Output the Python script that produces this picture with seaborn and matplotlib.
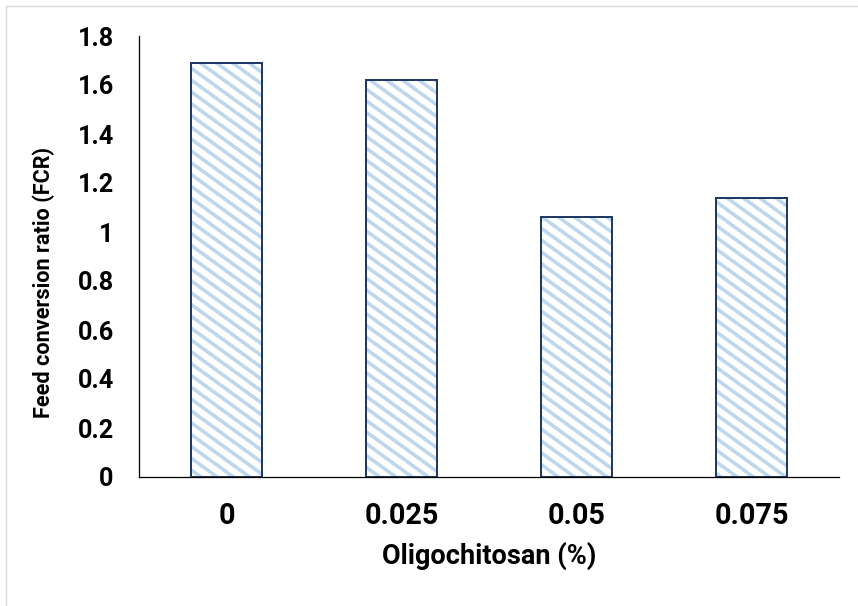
import numpy as np
import matplotlib
matplotlib.use("Agg")
import matplotlib.pyplot as plt
import matplotlib.hatch as mhatch
from matplotlib.path import Path
from matplotlib.patches import Rectangle
import seaborn as sns
import pandas as pd

# Oligochitosan inclusion level and resulting feed conversion ratio
levels = ["0", "0.025", "0.05", "0.075"]
fcr = [1.69, 1.62, 1.06, 1.14]

df = pd.DataFrame({"level": levels, "fcr": fcr})


class DownStripeHatch(mhatch.HatchPatternBase):
    """Downward diagonal stripes, 11 per cell vertically, 8 per cell horizontally."""
    rows, cols = 11, 8

    def __init__(self, hatch, density):
        self.num_lines = (self.rows + self.cols + 3) if hatch.count("\\") else 0
        self.num_vertices = self.num_lines * 2

    def set_vertices_and_codes(self, vertices, codes):
        c = np.arange(-1, self.num_lines - 1) / self.rows
        slope = self.cols / self.rows
        vertices[0::2, 0] = 0.0
        vertices[0::2, 1] = c
        vertices[1::2, 0] = 1.0
        vertices[1::2, 1] = c - slope
        codes[0::2] = Path.MOVETO
        codes[1::2] = Path.LINETO


mhatch._hatch_types = [DownStripeHatch if t is mhatch.SouthEastHatch else t
                       for t in mhatch._hatch_types]

sns.set_theme(style="white")
plt.rcParams["font.family"] = ["Roboto", "DejaVu Sans"]
plt.rcParams["hatch.linewidth"] = 2.0
plt.rcParams["hatch.color"] = "#BDD7EE"

DPI = 130
fig = plt.figure(figsize=(858 / DPI, 606 / DPI), dpi=DPI)
ax = fig.add_axes([139 / 858, 1 - 477 / 606, 700 / 858, 441 / 606])

sns.barplot(data=df, x="level", y="fcr", ax=ax, width=0.405,
            color="white", saturation=1, errorbar=None)

for bar in ax.patches:
    bar.set_facecolor("white")
    bar.set_edgecolor("#1F3864")
    bar.set_linewidth(1.1)
    bar.set_hatch("\\")
    bar._hatch_color = matplotlib.colors.to_rgba("#BDD7EE")

ax.set_xlim(-0.5, 3.5)
ax.set_ylim(0, 1.8)
ax.set_yticks([0, 0.2, 0.4, 0.6, 0.8, 1.0, 1.2, 1.4, 1.6, 1.8])
ax.set_yticklabels(["0", "0.2", "0.4", "0.6", "0.8", "1", "1.2", "1.4", "1.6", "1.8"])

for side in ["top", "right"]:
    ax.spines[side].set_visible(False)
for side in ["left", "bottom"]:
    ax.spines[side].set_color("black")
    ax.spines[side].set_linewidth(0.7)

ax.tick_params(axis="y", length=0, pad=14, labelsize=14)
ax.tick_params(axis="x", length=0, pad=14, labelsize=16)
for lab in ax.get_xticklabels() + ax.get_yticklabels():
    lab.set_fontweight("bold")
    lab.set_color("black")

ax.set_xlabel("Oligochitosan (%)", fontsize=15, fontweight="bold", color="black")
ax.set_ylabel("Feed conversion ratio (FCR)", fontsize=12, fontweight="bold", color="black")
ax.xaxis.set_label_coords(0.5, (477 - 556) / 441)
ax.xaxis.label.set_va("center")
ax.yaxis.set_label_coords((44 - 139) / 700, (477 - 282) / 441)
ax.yaxis.label.set_va("center")

# thin gray frame around the chart area
fig.patches.append(Rectangle((6 / 858, -0.1), 2, 1 - 6 / 606 + 0.1,
                             transform=fig.transFigure, fill=False,
                             edgecolor="#D9D9D9", linewidth=0.8))

fig.savefig("out.png", dpi=DPI)
